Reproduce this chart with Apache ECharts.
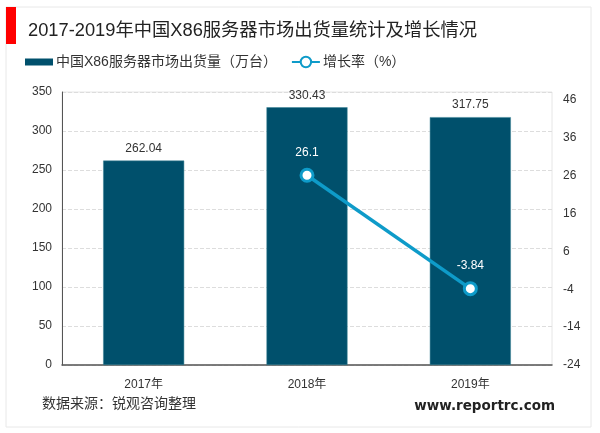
<!DOCTYPE html>
<html>
<head>
<meta charset="utf-8">
<script src="https://cdn.jsdelivr.net/npm/echarts@6/dist/echarts.min.js"></script>
<style>
html, body { margin: 0; padding: 0; background: #fff; }
#chart { width: 600px; height: 433px; }
</style>
</head>
<body>
<div id="chart"></div>
<script>
var categories = ['2017年', '2018年', '2019年'];
var shipments = [262.04, 330.43, 317.75];
var growth = [null, 26.1, -3.84];
var rightTicks = [-24, -14, -4, 6, 16, 26, 36, 46];

var fontFamily = '"Liberation Sans", "Noto Sans CJK SC", sans-serif';
var myChart = echarts.init(document.getElementById('chart'));

var option = {
	backgroundColor: '#fff',
	animation: false,
	textStyle: {fontFamily: fontFamily},
	title: [
		{text: '2017-2019年中国X86服务器市场出货量统计及增长情况', left: 23, top: 17,
			textStyle: {fontSize: 18.3, fontWeight: 'normal', color: '#222', fontFamily: fontFamily}},
		{text: '数据来源：锐观咨询整理', left: 37, top: 392,
			textStyle: {fontSize: 14, fontWeight: 'normal', color: '#333', fontFamily: fontFamily}},
		{text: 'www.reportrc.com', right: 40, top: 394,
			textStyle: {fontSize: 13.5, fontWeight: 'bold', color: '#222', fontFamily: '"DejaVu Sans", sans-serif'}}
	],
	graphic: [
		{type: 'rect', shape: {x: 6, y: 7, width: 585, height: 420}, style: {fill: 'none', stroke: '#e8e8e8', lineWidth: 1}},
		{type: 'rect', shape: {x: 6, y: 7, width: 10, height: 37}, style: {fill: '#f00'}}
	],
	legend: {
		left: 20, top: 50, itemWidth: 28, itemHeight: 13, itemGap: 14,
		textStyle: {fontSize: 14, color: '#333', padding: [0, 0, 0, -2]},
		data: [
			// thin bar swatch, the legend stretches plain rects to itemHeight
			{name: '中国X86服务器市场出货量（万台）', icon: 'path://M0 0H28V7H0Z', itemStyle: {borderWidth: 0}},
			{name: '增长率（%）'}
		]
	},
	grid: {left: 62, right: 48, top: 92, bottom: 68, show: true, borderColor: '#e6e6e6', borderWidth: 1},
	xAxis: {
		type: 'category', data: categories,
		axisLine: {lineStyle: {color: '#555', width: 1.5}},
		axisTick: {show: false},
		axisLabel: {fontSize: 12, color: '#333', margin: 14}
	},
	yAxis: [
		{
			type: 'value', min: 0, max: 350, interval: 50,
			axisLine: {show: true, lineStyle: {color: '#555', width: 1}},
			axisTick: {show: false},
			axisLabel: {fontSize: 12, color: '#333', margin: 10},
			splitLine: {lineStyle: {color: '#ddd', type: 'dashed'}}
		},
		{
			type: 'value', min: -24, max: 48.1,
			axisLine: {show: false},
			axisTick: {show: false},
			axisLabel: {fontSize: 12, color: '#333', margin: 11, customValues: rightTicks},
			splitLine: {show: false}
		}
	],
	series: [
		{
			name: '中国X86服务器市场出货量（万台）', type: 'bar', barWidth: 81,
			data: shipments,
			itemStyle: {color: '#00506c', borderColor: '#3b8294', borderWidth: 0.5},
			label: {show: true, position: 'top', distance: 6, fontSize: 12, color: '#333'}
		},
		{
			name: '增长率（%）', type: 'line', yAxisIndex: 1,
			data: growth,
			symbol: 'circle', symbolSize: 12,
			lineStyle: {color: '#0e9bc9', width: 3.5},
			itemStyle: {color: '#fff', borderColor: '#0e9bc9', borderWidth: 3},
			label: {show: true, position: 'top', distance: 9, fontSize: 12, color: '#fff'}
		}
	]
};
myChart.setOption(option);
</script>
</body>
</html>
